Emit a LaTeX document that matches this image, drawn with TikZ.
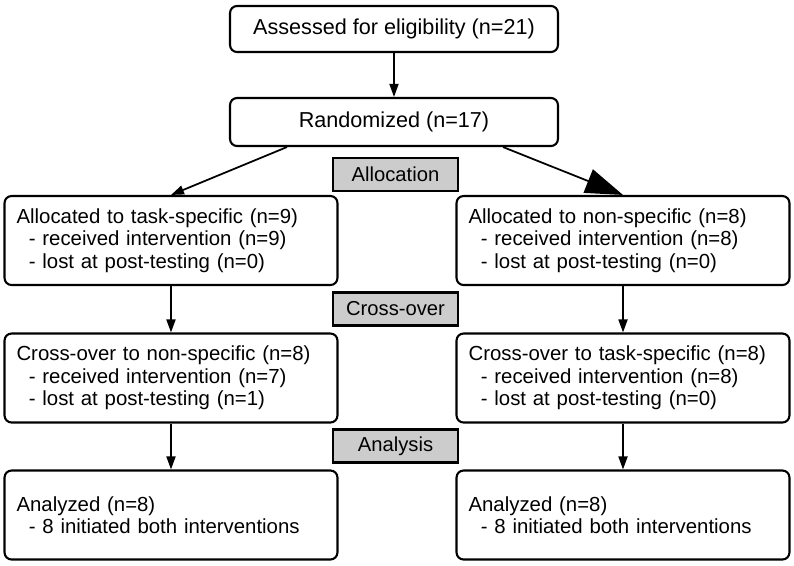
\documentclass[tikz,border=0pt]{standalone}
\usepackage{fontspec}
\setmainfont{Liberation Sans}
\usetikzlibrary{arrows.meta}

\begin{document}
\begin{tikzpicture}[x=0.02cm, y=-0.02cm,
    every node/.style={font=\fontsize{12.3}{12.8}\selectfont},
    boite/.style={draw, line width=1.2pt, rounded corners=4pt},
    groupe/.style={boite, align=left, text width=6.18cm, inner xsep=0.24cm, minimum height=1.78cm,
        font=\fontsize{11.6}{12.8}\selectfont},
    etape/.style={draw, line width=1.2pt, fill=black!20, minimum width=2.5cm, minimum height=0.66cm, inner sep=0pt,
        font=\fontsize{11.5}{12.8}\selectfont},
    fleche/.style={line width=1pt, -{Triangle[length=2.6mm,width=1.8mm]}}]
    \useasboundingbox (0,0) rectangle (794,565);

    % Inclusion
    \node[boite, minimum width=6.56cm, minimum height=0.92cm] (elig) at (394,29) {Assessed for eligibility (n=21)};
    \node[boite, minimum width=6.56cm, minimum height=0.96cm] (rand) at (394,122) {Randomized (n=17)};

    % Etapes
    \node[etape] (alloc) at (395.5,174.5) {Allocation};
    \node[etape] (cross) at (395.5,309) {Cross-over};
    \node[etape] (anal) at (395.5,446) {Analysis};

    % Gauche : task-specific d'abord
    \node[groupe] (tache) at (171,240.5) {Allocated to task-specific (n=9)\\
        \hspace*{7pt}- received intervention (n=9)\\
        \hspace*{7pt}- lost at post-testing (n=0)};
    \node[groupe] (croisG) at (171,378) {Cross-over to non-specific (n=8)\\
        \hspace*{7pt}- received intervention (n=7)\\
        \hspace*{7pt}- lost at post-testing (n=1)};
    \node[groupe] (analG) at (171,515) {Analyzed (n=8)\\
        \hspace*{7pt}- 8 initiated both interventions};

    % Droite : non-specific d'abord
    \node[groupe] (nonspec) at (623,240.5) {Allocated to non-specific (n=8)\\
        \hspace*{7pt}- received intervention (n=8)\\
        \hspace*{7pt}- lost at post-testing (n=0)};
    \node[groupe] (croisD) at (623,378) {Cross-over to task-specific (n=8)\\
        \hspace*{7pt}- received intervention (n=8)\\
        \hspace*{7pt}- lost at post-testing (n=0)};
    \node[groupe] (analD) at (623,515) {Analyzed (n=8)\\
        \hspace*{7pt}- 8 initiated both interventions};

    % Fleches
    \draw[fleche] (elig) -- (rand);
    \draw[fleche] ([xshift=1.16cm]rand.south west) -- (tache.north);
    \draw[line width=1pt, -{Triangle[length=7.5mm,width=5mm]}] ([xshift=-1.12cm]rand.south east) -- (nonspec.north);
    \draw[fleche] (tache) -- (croisG);
    \draw[fleche] (croisG) -- (analG);
    \draw[fleche] (nonspec) -- (croisD);
    \draw[fleche] (croisD) -- (analD);
\end{tikzpicture}
\end{document}
